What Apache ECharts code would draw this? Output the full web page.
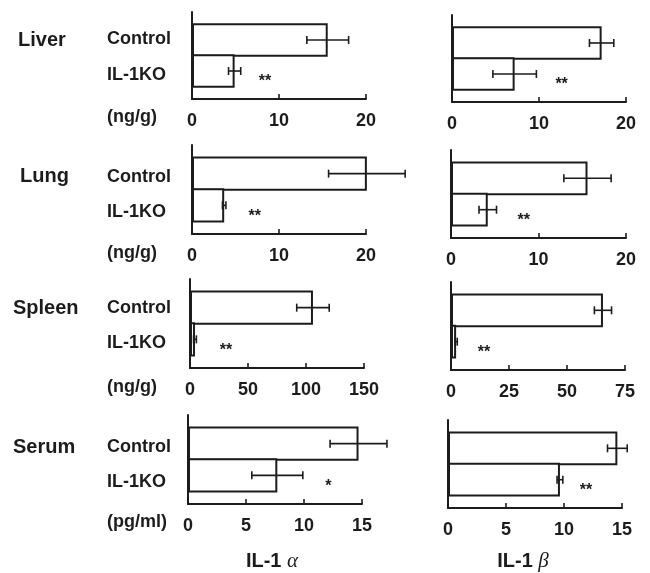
<!DOCTYPE html>
<html><head><meta charset="utf-8">
<script src="https://cdn.jsdelivr.net/npm/echarts@6/dist/echarts.min.js"></script>
<style>html,body{margin:0;padding:0;background:#fff}#c{width:650px;height:573px}</style>
</head><body><div id="c"></div>
<script>
// ---------- data ----------
const organs = ['Liver', 'Lung', 'Spleen', 'Serum'];
const groups = ['Control', 'IL-1KO'];
const units = ['(ng/g)', '(ng/g)', '(ng/g)', '(pg/ml)'];
const cytokineNames = ['IL-1 ', 'IL-1 '];
const cytokineGreek = ['α', 'β'];

const axisMaxAlpha = [20, 20, 150, 15];
const axisStepAlpha = [10, 10, 50, 5];
const axisMaxBeta = [20, 20, 75, 15];
const axisStepBeta = [10, 10, 25, 5];

const alphaControl = [15.6, 20.1, 106, 14.7];
const alphaControlErr = [2.4, 4.4, 14, 2.45];
const alphaKO = [4.9, 3.7, 4.3, 7.7];
const alphaKOErr = [0.7, 0.2, 1.2, 2.2];

const betaControl = [17.2, 15.6, 65.5, 14.6];
const betaControlErr = [1.4, 2.7, 3.7, 0.85];
const betaKO = [7.2, 4.2, 2.2, 9.65];
const betaKOErr = [2.5, 1.0, 0.5, 0.25];

const alphaSig = ['**', '**', '**', '*'];
const alphaSigAt = [8.4, 7.2, 31, 12.1];
const betaSig = ['**', '**', '**', '**'];
const betaSigAt = [12.6, 8.3, 14.2, 11.9];

// ---------- layout ----------
const INK = '#1c1c1c';
const FONT = '"Liberation Sans", Arial, Helvetica, sans-serif';
const GAP = 26;     // barCategoryGap %
const BARGAP = -7;  // barGap % (slight overlap so the outlines touch)
const gridsL = [[192, 12, 174, 87], [192, 145, 174, 89], [190, 279, 174, 89], [188, 415, 174, 89]];
const gridsR = [[452, 15, 174, 87], [451, 150, 175, 88], [451, 282, 174, 88], [448, 420, 174, 88]];
const organX = [18, 20, 13, 13];
const organY = [40, 176, 308, 447];
const groupX = 107;
const controlY = [39, 177, 308, 447];
const koY = [75, 212, 343, 482];
const unitY = [117, 253, 387, 522];
const titlePos = [[272, 561], [523, 561]];

function barGeom(api, c) {
  const band = api.size([0, 1])[1];
  const g = BARGAP / 100;
  const bw = band * (1 - GAP / 100) / (2 + g);
  const total = bw * (2 + g);
  const y0 = c - total / 2 + bw / 2;
  return [y0, y0 + bw * (1 + g), bw];
}
function renderErr(params, api) {
  const m = api.value(0), e = api.value(2), k = api.value(3);
  const c = api.coord([m, 0]);
  const geo = barGeom(api, c[1]);
  const y = k === 0 ? geo[0] : geo[1];
  const x1 = api.coord([m - e, 0])[0], x2 = api.coord([m + e, 0])[0];
  const cap = 4;
  const st = { stroke: INK, lineWidth: 1.6 };
  return {
    type: 'group', children: [
      { type: 'line', shape: { x1: x1, y1: y, x2: x2, y2: y }, style: st },
      { type: 'line', shape: { x1: x1, y1: y - cap, x2: x1, y2: y + cap }, style: st },
      { type: 'line', shape: { x1: x2, y1: y - cap, x2: x2, y2: y + cap }, style: st }
    ]
  };
}
function makeSig(txt) {
  return function (params, api) {
    const c = api.coord([api.value(0), 0]);
    const geo = barGeom(api, c[1]);
    return {
      type: 'text', x: c[0], y: geo[1] + 11,
      style: { text: txt, fill: INK, font: 'bold 16px ' + FONT, align: 'center', verticalAlign: 'middle' }
    };
  };
}

const grid = [], xAxis = [], yAxis = [], series = [];
function addPanel(i, g, max, step, ctl, ctlE, ko, koE, sig, sigAt) {
  const idx = grid.length;
  grid.push({ left: g[0], top: g[1], width: g[2], height: g[3] });
  xAxis.push({
    type: 'value', gridIndex: idx, min: 0, max: max, interval: step,
    splitLine: { show: false },
    axisLine: { show: true, lineStyle: { color: INK, width: 2 } },
    axisTick: { show: true, inside: true, length: 5, lineStyle: { color: INK, width: 1.6 } },
    axisLabel: { color: INK, fontSize: 18, fontWeight: 'bold', fontFamily: FONT, margin: 13 }
  });
  yAxis.push({
    type: 'category', gridIndex: idx, data: [organs[i]],
    axisLine: { show: true, lineStyle: { color: INK, width: 2 } },
    axisTick: { show: false }, axisLabel: { show: false }, splitLine: { show: false }
  });
  const barStyle = { color: '#fff', borderColor: INK, borderWidth: 2 };
  series.push({ type: 'bar', name: groups[0], xAxisIndex: idx, yAxisIndex: idx, data: [ctl],
    barGap: BARGAP + '%', barCategoryGap: GAP + '%', itemStyle: barStyle, silent: true });
  series.push({ type: 'bar', name: groups[1], xAxisIndex: idx, yAxisIndex: idx, data: [ko],
    barGap: BARGAP + '%', barCategoryGap: GAP + '%', itemStyle: barStyle, silent: true });
  series.push({ type: 'custom', xAxisIndex: idx, yAxisIndex: idx, z: 5, silent: true,
    data: [[ctl, 0, ctlE, 0], [ko, 0, koE, 1]], renderItem: renderErr });
  series.push({ type: 'custom', xAxisIndex: idx, yAxisIndex: idx, z: 5, silent: true,
    data: [[sigAt, 0]], renderItem: makeSig(sig) });
}
for (let i = 0; i < 4; i++) {
  addPanel(i, gridsL[i], axisMaxAlpha[i], axisStepAlpha[i], alphaControl[i], alphaControlErr[i], alphaKO[i], alphaKOErr[i], alphaSig[i], alphaSigAt[i]);
  addPanel(i, gridsR[i], axisMaxBeta[i], axisStepBeta[i], betaControl[i], betaControlErr[i], betaKO[i], betaKOErr[i], betaSig[i], betaSigAt[i]);
}

const graphic = [];
function txt(t, x, y, size) {
  return { type: 'text', x: x, y: y, silent: true,
    style: { text: t, fill: INK, font: 'bold ' + size + 'px ' + FONT, align: 'left', verticalAlign: 'middle' } };
}
for (let i = 0; i < 4; i++) {
  graphic.push(txt(organs[i], organX[i], organY[i], 20));
  graphic.push(txt(groups[0], groupX, controlY[i], 18));
  graphic.push(txt(groups[1], groupX, koY[i], 18));
  graphic.push(txt(units[i], groupX, unitY[i], 18));
}
for (let j = 0; j < 2; j++) {
  graphic.push({ type: 'text', x: titlePos[j][0], y: titlePos[j][1], silent: true,
    style: { text: '{a|' + cytokineNames[j] + '}{b|' + cytokineGreek[j] + '}',
      align: 'center', verticalAlign: 'middle',
      rich: { a: { font: 'bold 20px ' + FONT, fill: INK },
              b: { font: 'italic 21px "Liberation Serif", serif', fill: INK } } } });
}

const chart = echarts.init(document.getElementById('c'), null, { renderer: 'canvas' });
chart.setOption({ animation: false, backgroundColor: '#fff', grid, xAxis, yAxis, series, graphic });
</script></body></html>
